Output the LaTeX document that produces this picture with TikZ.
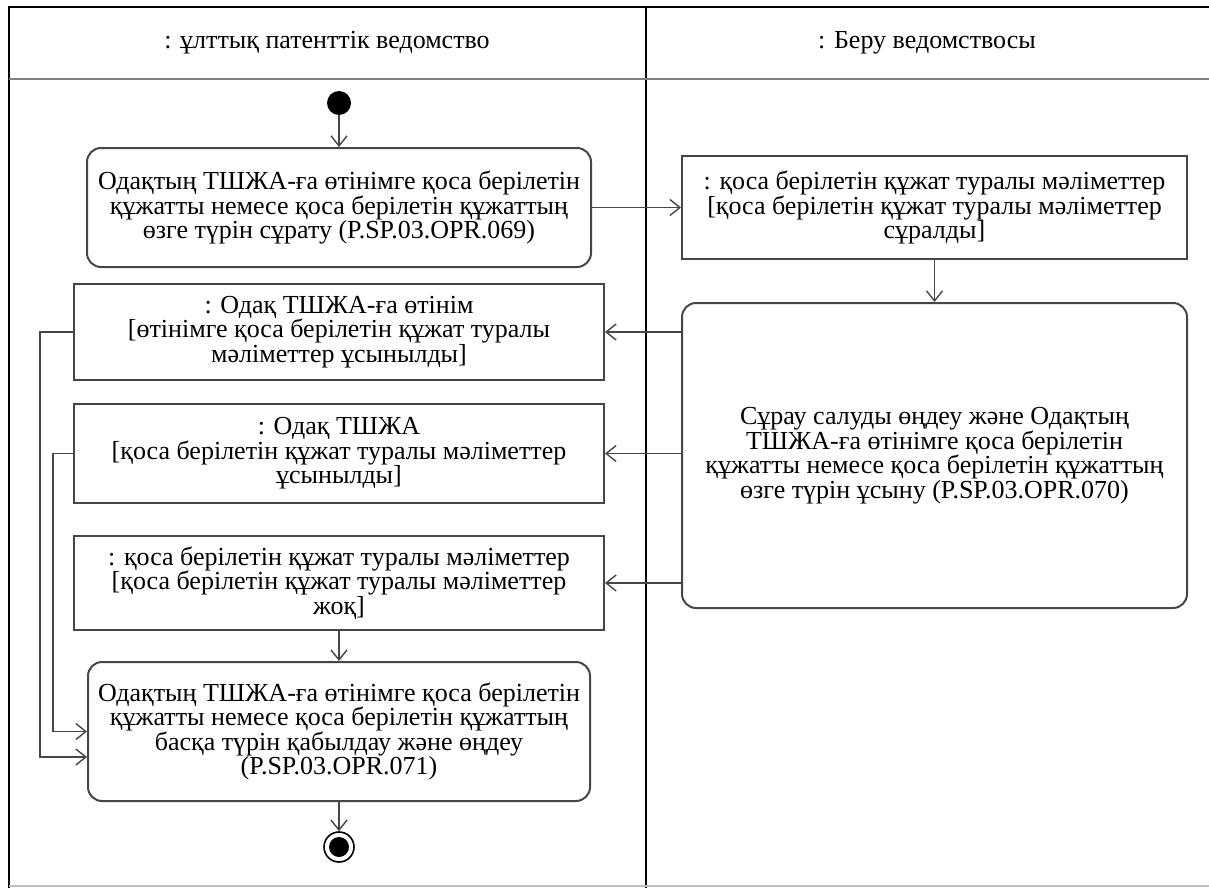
\documentclass[tikz,border=0pt]{standalone}
\usepackage{fontspec}
\setmainfont{Liberation Serif}
\usetikzlibrary{arrows.meta}
\tikzset{>={Straight Barb[length=5pt,width=8pt]}}
\definecolor{linegray}{RGB}{70,70,70}

\begin{document}
\begin{tikzpicture}[x=0.5pt, y=-0.5pt,
    every node/.style={align=center, font=\fontsize{13}{12.3}\selectfont},
    action/.style={draw=linegray, line width=1pt, rounded corners=7pt, fill=white},
    objbox/.style={draw=linegray, line width=1pt, fill=white},
    flow/.style={->, draw=linegray, line width=0.7pt}]
    \useasboundingbox (0,0) rectangle (1209,888);

    % Swimlanes
    \draw[line width=1pt] (9,888) -- (9,7) -- (1209,7);
    \draw[line width=1pt] (646,7) -- (646,888);
    \draw[gray, line width=1pt] (9,79) -- (1209,79);
    \draw[gray!50, line width=0.6pt] (9,886) -- (1209,886);
    \node (laneA) at (327,43) {: ұлттық патенттік ведомство};
    \node (laneB) at (927,43) {: Беру ведомствосы};

    % Nodes
    \node (start) at (339,103) [circle, fill=black, minimum size=12pt, inner sep=0pt] {};
    \node (req) at (339,207.5) [action, minimum width=252pt, minimum height=59.5pt]
        {Одақтың ТШЖА-ға өтінімге қоса берілетін\\құжатты немесе қоса берілетін құжаттың\\өзге түрін сұрату (P.SP.03.OPR.069)};
    \node (info) at (934.5,207.5) [objbox, minimum width=252.5pt, minimum height=51.5pt]
        {: қоса берілетін құжат туралы мәліметтер\\{}[қоса берілетін құжат туралы мәліметтер\\сұралды]};
    \node (supply) at (934.5,455.5) [action, minimum width=252.5pt, minimum height=152.5pt]
        {Сұрау салуды өңдеу және Одақтың\\ТШЖА-ға өтінімге қоса берілетін\\құжатты немесе қоса берілетін құжаттың\\өзге түрін ұсыну (P.SP.03.OPR.070)};
    \node (appl) at (339,332) [objbox, minimum width=265pt, minimum height=48pt]
        {: Одақ ТШЖА-ға өтінім\\{}[өтінімге қоса берілетін құжат туралы\\мәліметтер ұсынылды]};
    \node (tshja) at (339,453.5) [objbox, minimum width=265pt, minimum height=49.5pt]
        {: Одақ ТШЖА\\{}[қоса берілетін құжат туралы мәліметтер\\ұсынылды]};
    \node (nodata) at (339,583) [objbox, minimum width=265pt, minimum height=47pt]
        {: қоса берілетін құжат туралы мәліметтер\\{}[қоса берілетін құжат туралы мәліметтер\\жоқ]};
    \node (proc) at (339,731.5) [action, minimum width=251pt, minimum height=69.5pt]
        {Одақтың ТШЖА-ға өтінімге қоса берілетін\\құжатты немесе қоса берілетін құжаттың\\басқа түрін қабылдау және өңдеу\\(P.SP.03.OPR.071)};
    \node (end) at (339,847) [circle, draw=black, line width=0.8pt, minimum size=15pt, inner sep=0pt] {};
    \node (endin) at (end) [circle, fill=black, minimum size=10pt, inner sep=0pt] {};

    % Arrows
    \draw[flow] (start) -- (req);
    \draw[flow] (req) -- (info);
    \draw[flow] (info) -- (supply);
    \draw[flow] (supply.west |- appl.east) -- (appl.east);
    \draw[flow] (supply.west |- tshja.east) -- (tshja.east);
    \draw[flow] (supply.west |- nodata.east) -- (nodata.east);
    \draw[flow] (nodata) -- (proc);
    \draw[flow] (appl.west) -- ++(-33,0) |- ([yshift=-12.75pt]proc.west);
    \draw[flow] (tshja.west) -- ++(-20,0) |- (proc.west);
    \draw[flow] (proc) -- (end);
\end{tikzpicture}
\end{document}
